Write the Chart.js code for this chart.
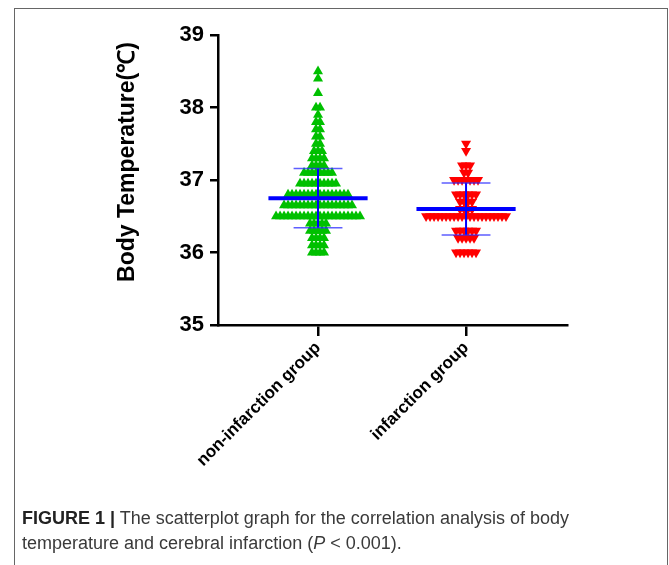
<!DOCTYPE html>
<html>
<head>
<meta charset="utf-8">
<script src="https://cdn.jsdelivr.net/npm/chart.js@4"></script>
<style>
  body { margin: 0; background: #fff; width: 669px; height: 565px; overflow: hidden; position: relative; font-family: "Liberation Sans", Arial, sans-serif; }
  #wrap { position: absolute; left: 0; top: 0; width: 669px; height: 480px; }
  #frame { position: absolute; left: 14px; top: 8px; width: 652px; height: 570px; border: 1.5px solid #666; border-bottom: none; pointer-events: none; }
  #caption { position: absolute; left: 22px; top: 506px; width: 600px; font-size: 18px; line-height: 25px; color: #3a3a3a; }
  #caption b { color: #222; }
</style>
</head>
<body>
<div id="wrap"><canvas id="chart" width="669" height="480"></canvas></div>
<div id="frame"></div>
<div id="caption"><b>FIGURE 1 |</b> The scatterplot graph for the correlation analysis of body temperature and cerebral infarction (<i>P</i> &lt; 0.001).</div>
<script>
const groups = ["non-infarction group", "infarction group"];
const yTicks = [35, 36, 37, 38, 39];

// temperatures (rows) and how many patients sit on each row
const nonInfTemps = [38.5, 38.4, 38.2, 38.0, 37.9, 37.8, 37.7, 37.6, 37.5, 37.4, 37.3, 37.2, 37.1, 36.95, 36.8, 36.65, 36.5, 36.4, 36.3, 36.2, 36.1, 36.0];
const nonInfCounts = [1, 1, 1, 2, 1, 2, 2, 2, 2, 3, 4, 4, 8, 10, 16, 18, 22, 5, 5, 4, 4, 4];
const infTemps = [37.5, 37.4, 37.2, 37.1, 37.0, 36.8, 36.7, 36.6, 36.5, 36.3, 36.2, 36.0];
const infCounts = [1, 1, 3, 2, 7, 6, 4, 4, 21, 6, 5, 6];

// mean and SD of each group
const means = [36.75, 36.6];
const sds = [0.41, 0.36];

const chart = document.getElementById("chart");
const font = "'Liberation Sans', Arial, sans-serif";
const step = 0.027; // horizontal spacing of points inside a row

function swarm(temps, counts, center) {
  const pts = [];
  temps.forEach((t, r) => {
    const n = counts[r];
    for (let i = 0; i < n; i++) {
      pts.push({ x: center + (i - (n - 1) / 2) * step, y: t });
    }
  });
  return pts;
}

function seg(data, width, color) {
  return { type: "line", data: data, borderColor: color, borderWidth: width, pointRadius: 0, showLine: true, fill: false };
}

const statSets = [];
means.forEach((m, g) => {
  const c = g + 1;
  statSets.push(seg([{ x: c - 0.335, y: m }, { x: c + 0.335, y: m }], 4, "#0000ff"));
  statSets.push(seg([{ x: c - 0.165, y: m + sds[g] }, { x: c + 0.165, y: m + sds[g] }], 1.5, "rgba(40,40,255,0.75)"));
  statSets.push(seg([{ x: c - 0.165, y: m - sds[g] }, { x: c + 0.165, y: m - sds[g] }], 1.5, "rgba(40,40,255,0.75)"));
  statSets.push(seg([{ x: c, y: m - sds[g] }, { x: c, y: m + sds[g] }], 2, "#0000ff"));
});

const yTitle = {
  id: "yTitle",
  afterDraw(c) {
    const ctx = c.ctx;
    ctx.save();
    ctx.translate(128, 162);
    ctx.rotate(-Math.PI / 2);
    ctx.font = "bold 23px " + font;
    ctx.fillStyle = "#000";
    ctx.textAlign = "center";
    ctx.textBaseline = "middle";
    ctx.fillText("Body Temperature(℃)", 0, 0);
    ctx.restore();
  },
};

new Chart(chart, {
  type: "scatter",
  data: {
    datasets: [
      ...statSets,
      {
        data: swarm(nonInfTemps, nonInfCounts, 1),
        pointStyle: "triangle",
        pointRadius: 5.8,
        pointBorderWidth: 0,
        backgroundColor: "#00c000",
        borderColor: "#00c000",
      },
      {
        data: swarm(infTemps, infCounts, 2),
        pointStyle: "triangle",
        rotation: 180,
        pointRadius: 5.8,
        pointBorderWidth: 0,
        backgroundColor: "#ff0000",
        borderColor: "#ff0000",
      },
    ],
  },
  options: {
    responsive: false,
    animation: false,
    layout: { padding: { top: 35, right: 102, bottom: 0, left: 0 } },
    plugins: { legend: { display: false }, tooltip: { enabled: false } },
    scales: {
      x: {
        type: "linear",
        min: 0.3243,
        max: 2.682,
        afterFit: (s) => { s.height = 155; },
        afterBuildTicks: (s) => { s.ticks = groups.map((g, i) => ({ value: i + 1 })); },
        border: { display: true, color: "#000", width: 2.5 },
        grid: { drawOnChartArea: false, color: "#000", lineWidth: 2.5, tickLength: 11 },
        ticks: {
          color: "#000",
          font: { family: font, size: 17, weight: "bold" },
          minRotation: 45,
          maxRotation: 45,
          padding: 2,
          callback: (v) => groups[Math.round(v) - 1] || "",
        },
      },
      y: {
        min: 35,
        max: 39,
        afterFit: (s) => { s.width = 218; },
        afterBuildTicks: (s) => { s.ticks = yTicks.map((v) => ({ value: v })); },
        border: { display: true, color: "#000", width: 2.5 },
        grid: { drawOnChartArea: false, color: "#000", lineWidth: 2.5, tickLength: 8 },
        ticks: {
          color: "#000",
          font: { family: font, size: 22, weight: "bold" },
          padding: 6,
        },
      },
    },
  },
  plugins: [yTitle],
});
</script>
</body>
</html>
